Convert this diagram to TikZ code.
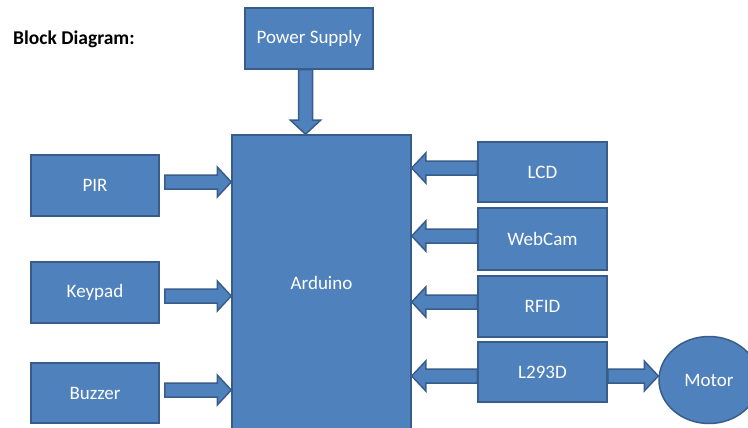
\documentclass[tikz,border=0pt]{standalone}
\usepackage{fontspec}
\setmainfont{Carlito}
\usetikzlibrary{calc,shapes.geometric}
\definecolor{boxfill}{HTML}{4F81BD}
\definecolor{boxline}{HTML}{385D8A}
\newcommand\blockarr[2]{%
  \coordinate (hd) at ($(#2)!14pt!(#1)$);
  \draw[barr] ($(#1)!7pt!90:(#2)$) -- ($(hd)!7pt!90:(#2)$) -- ($(hd)!15pt!90:(#2)$) -- (#2)
    -- ($(hd)!15pt!-90:(#2)$) -- ($(hd)!7pt!-90:(#2)$) -- ($(#1)!7pt!-90:(#2)$) -- cycle;}
\begin{document}
\begin{tikzpicture}[x=1pt,y=-1pt,
  blk/.style={draw=boxline, fill=boxfill, line width=1.5pt, text=white,
    font=\fontsize{19}{23}\selectfont, inner sep=0pt},
  sbox/.style={blk, minimum width=128pt, minimum height=61pt},
  barr/.style={draw=boxline, fill=boxfill, line width=1.5pt, line join=miter}]
\useasboundingbox (0,0) rectangle (748,428);
\node[anchor=base west, inner sep=0pt, font=\bfseries\fontsize{19.5}{23}\selectfont] (title) at (13,45) {Block Diagram:};
\node[sbox] (ps) at (309,38.5) {Power Supply};
\node[blk, minimum width=179pt, minimum height=296pt] (ard) at (321.5,283) {Arduino};
\node[sbox] (pir) at (95,185.5) {PIR};
\node[sbox] (key) at (95,292.5) {Keypad};
\node[sbox, minimum height=60pt] (buz) at (95,393) {Buzzer};
\node[sbox, minimum width=129pt, minimum height=60pt] (lcd) at (542.5,172) {LCD};
\node[sbox, minimum width=129pt, minimum height=62pt] (web) at (542.5,239) {WebCam};
\node[sbox, minimum width=129pt, minimum height=61pt] (rfid) at (542.5,306.5) {RFID};
\node[sbox, minimum width=129pt, minimum height=60pt] (l293) at (542.5,372) {L293D};
\node[blk, ellipse, minimum width=100pt, minimum height=87pt] (motor) at (709,380) {Motor};
% arrows
\coordinate (p1) at ([xshift=-3.5pt]ps.south);
\coordinate (p2) at (p1 |- ard.north);
\blockarr{p1}{p2}
\coordinate (a1) at ([shift={(5,-3.5)}]pir.east);
\coordinate (b1) at (ard.west |- a1);
\blockarr{a1}{b1}
\coordinate (a2) at ([shift={(5,3.5)}]key.east);
\coordinate (b2) at (ard.west |- a2);
\blockarr{a2}{b2}
\coordinate (a3) at ([shift={(5,-3)}]buz.east);
\coordinate (b3) at (ard.west |- a3);
\blockarr{a3}{b3}
\coordinate (c1) at ([yshift=4pt]lcd.west);
\coordinate (d1) at (ard.east |- c1);
\blockarr{c1}{d1}
\coordinate (c2) at ([yshift=3pt]web.west);
\coordinate (d2) at (ard.east |- c2);
\blockarr{c2}{d2}
\coordinate (c3) at ([yshift=4.5pt]rfid.west);
\coordinate (d3) at (ard.east |- c3);
\blockarr{c3}{d3}
\coordinate (c4) at ([yshift=-4pt]l293.west);
\coordinate (d4) at (ard.east |- c4);
\blockarr{c4}{d4}
\coordinate (e1) at ([yshift=-4pt]l293.east);
\coordinate (f1) at (motor.west |- e1);
\blockarr{e1}{f1}
\end{tikzpicture}
\end{document}
